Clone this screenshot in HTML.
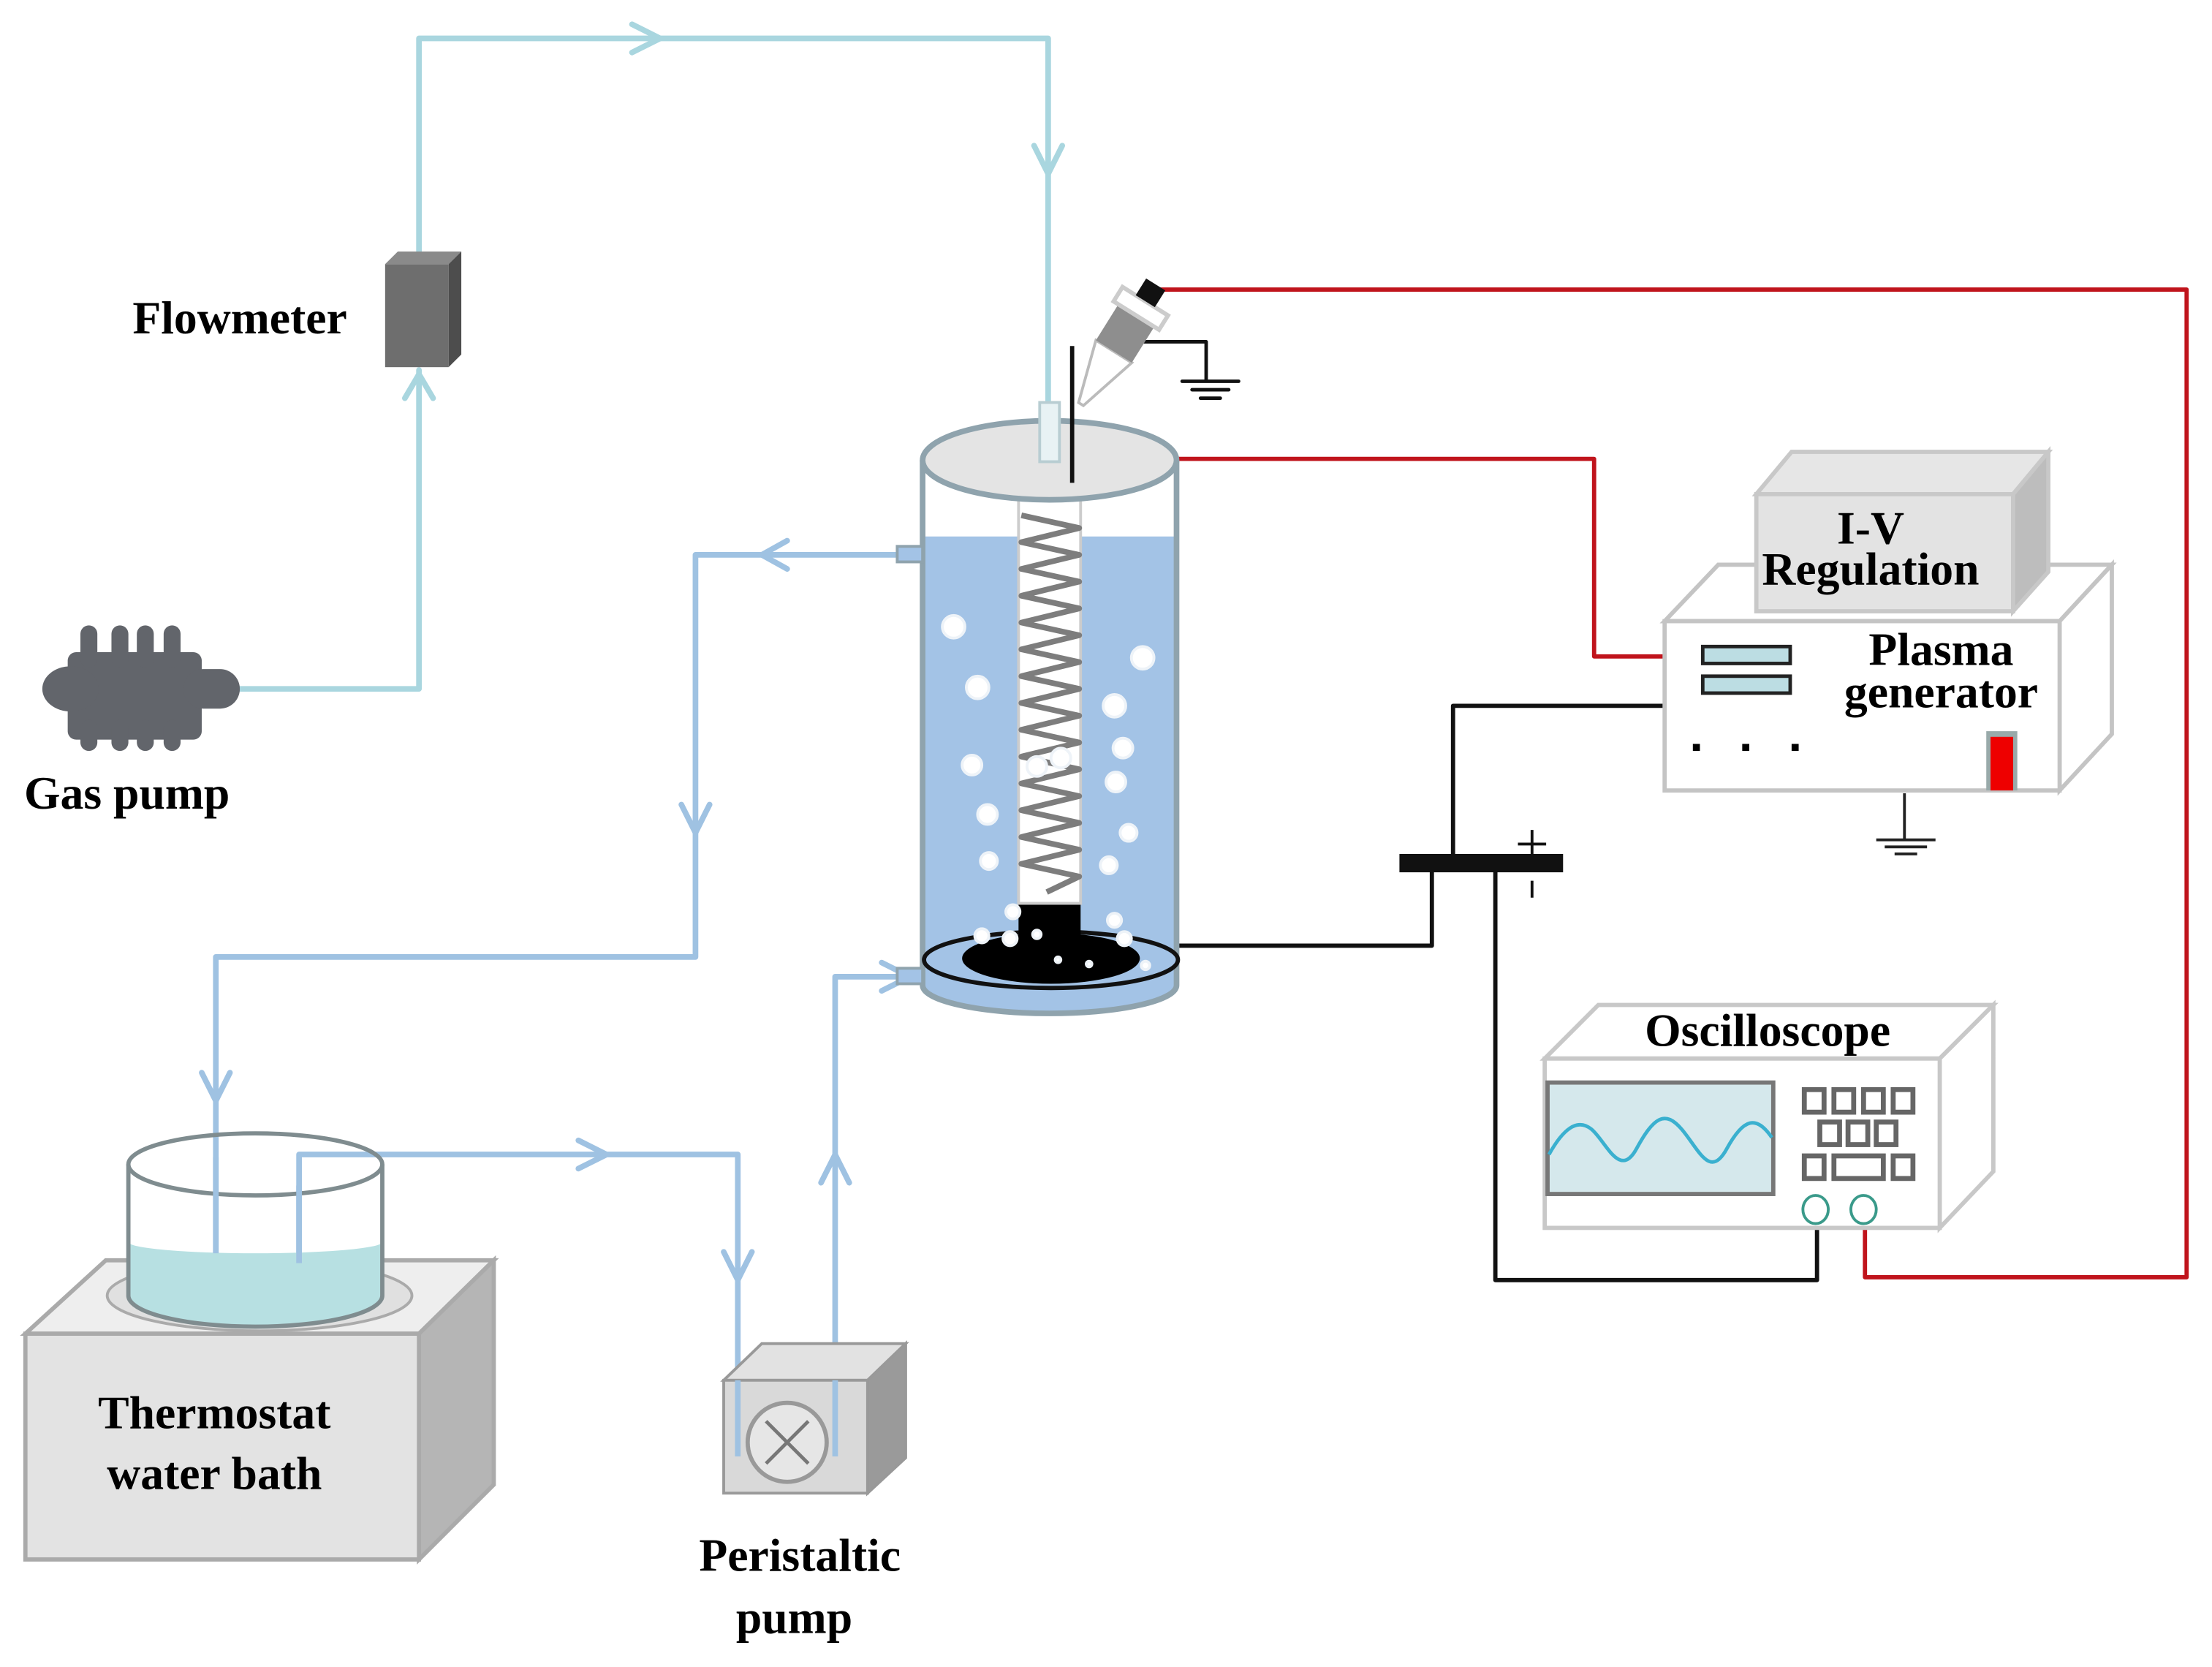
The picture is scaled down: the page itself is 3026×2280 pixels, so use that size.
<!DOCTYPE html>
<html><head><meta charset="utf-8"><style>html,body{margin:0;padding:0;background:#fff}svg{display:block}</style></head>
<body>
<svg width="3026" height="2280" viewBox="0 0 1568 1181" xmlns="http://www.w3.org/2000/svg" font-family="Liberation Serif, serif" font-weight="bold">
<rect width="1568" height="1181" fill="#fff"/>
<g fill="none" stroke-linecap="round" stroke-linejoin="round">
<path d="M160,488 H297 V262 M297,178 V27 H743 V300" stroke="#a9d6df" stroke-width="4"/>
<path d="M448,17 L468,27 L448,37" stroke="#a9d6df" stroke-width="4"/>
<path d="M733,103 L743,123 L753,103" stroke="#a9d6df" stroke-width="4"/>
<path d="M287,282 L297,265 L307,282" stroke="#a9d6df" stroke-width="4"/>
<path d="M640,393 H493 V678 H153 V888" stroke="#9fc2e2" stroke-width="4"/>
<path d="M558,383 L540,393 L558,403" stroke="#9fc2e2" stroke-width="4"/>
<path d="M483,570 L493,590 L503,570" stroke="#9fc2e2" stroke-width="4"/>
<path d="M143,760 L153,780 L163,760" stroke="#9fc2e2" stroke-width="4"/>
<path d="M212,895 V818 H523 V1032" stroke="#9fc2e2" stroke-width="4"/>
<path d="M410,808 L430,818 L410,828" stroke="#9fc2e2" stroke-width="4"/>
<path d="M513,887 L523,907 L533,887" stroke="#9fc2e2" stroke-width="4"/>
<path d="M592,1032 V692 H645" stroke="#9fc2e2" stroke-width="4"/>
<path d="M582,838 L592,818 L602,838" stroke="#9fc2e2" stroke-width="4"/>
<path d="M625,682 L645,692 L625,702" stroke="#9fc2e2" stroke-width="4"/>
<path d="M762,325 H1130 V465 H1182" stroke="#c0141c" stroke-width="3"/>
<path d="M815,205 H1550 V905 H1322 V858" stroke="#c0141c" stroke-width="3"/>
<path d="M1182,500 H1030 V606" stroke="#111" stroke-width="3"/>
<path d="M820,670 H1015 V618" stroke="#111" stroke-width="3"/>
<path d="M1060,618 V907 H1288 V858" stroke="#111" stroke-width="3"/>
<path d="M805,242 H855 V270 M838,270 H878 M845,276 H871 M851,282 H865" stroke="#111" stroke-width="2.5"/>
</g>
<rect x="992" y="605" width="116" height="13" fill="#111"/>
<path d="M1076,598 H1096 M1086,588 V608 M1086,624 V636" stroke="#111" stroke-width="2"/>
<polygon points="273,187 282,178 327,178 318,187" fill="#8a8a8a"/>
<polygon points="318,187 327,178 327,251 318,260" fill="#4d4d4d"/>
<rect x="273" y="187" width="45" height="73" fill="#6e6e6e"/>
<text x="170" y="236" font-size="33" text-anchor="middle">Flowmeter</text>
<g fill="#62656b">
<rect x="48" y="462" width="95" height="62" rx="6"/>
<ellipse cx="50" cy="488" rx="20" ry="16"/>
<rect x="130" y="474" width="40" height="28" rx="14"/>
<rect x="57" y="443" width="12" height="30" rx="6"/><rect x="79" y="443" width="12" height="30" rx="6"/><rect x="97" y="443" width="12" height="30" rx="6"/><rect x="116" y="443" width="12" height="30" rx="6"/>
<rect x="57" y="510" width="12" height="22" rx="6"/><rect x="79" y="510" width="12" height="22" rx="6"/><rect x="97" y="510" width="12" height="22" rx="6"/><rect x="116" y="510" width="12" height="22" rx="6"/>
</g>
<text x="90" y="573" font-size="33" text-anchor="middle">Gas pump</text>
<path d="M654,380 H834 V698 A90,20 0 0 1 654,698 Z" fill="#a3c3e6"/>
<path d="M654,326 V698 A90,20 0 0 0 834,698 V326" fill="none" stroke="#8fa3ad" stroke-width="4"/>
<rect x="636" y="387" width="18" height="11" fill="#a3c3e6" stroke="#8fa3ad" stroke-width="2"/>
<rect x="636" y="686" width="18" height="11" fill="#a3c3e6" stroke="#8fa3ad" stroke-width="2"/>
<ellipse cx="745" cy="680" rx="90" ry="20" fill="#a3c3e6" stroke="#111" stroke-width="3"/>
<ellipse cx="745" cy="679" rx="63" ry="18" fill="#000"/>
<rect x="722" y="640" width="44" height="35" fill="#000"/>
<rect x="722" y="352" width="44" height="288" fill="#fff" stroke="#ccc" stroke-width="2"/>
<polyline fill="none" stroke="#7d7d7d" stroke-width="4" stroke-linejoin="round" points="724,365 765,374 724,384 765,393 724,403 765,412 724,422 765,431 724,441 765,450 724,460 765,469 724,479 765,488 724,498 765,507 724,517 765,526 724,536 765,545 724,555 765,564 724,574 765,583 724,593 765,602 724,612 765,621 742,632"/>
<ellipse cx="744" cy="326" rx="90" ry="28" fill="#e4e4e4" stroke="#8fa3ad" stroke-width="4"/>
<rect x="737" y="285" width="14" height="42" fill="#e8f2f4" stroke="#b8cdd2" stroke-width="2"/>
<line x1="760" y1="245" x2="760" y2="342" stroke="#111" stroke-width="3"/>
<g transform="translate(797,237) rotate(32)">
<polygon points="-15,14 15,14 2,58 -2,58" fill="#fff" stroke="#bbb" stroke-width="2"/>
<rect x="-15" y="-16" width="30" height="30" fill="#8e8e8e"/>
<rect x="-19" y="-28" width="38" height="12" fill="#fff" stroke="#ccc" stroke-width="3"/>
<rect x="-8" y="-42" width="16" height="14" fill="#111"/>
</g>
<g fill="#fff" stroke="#eef3f8" stroke-width="2">
<circle cx="676" cy="444" r="8"/><circle cx="693" cy="487" r="8"/><circle cx="689" cy="542" r="7"/><circle cx="700" cy="577" r="7"/><circle cx="701" cy="610" r="6"/>
<circle cx="810" cy="466" r="8"/><circle cx="790" cy="500" r="8"/><circle cx="796" cy="530" r="7"/><circle cx="791" cy="554" r="7"/><circle cx="800" cy="590" r="6"/><circle cx="786" cy="613" r="6"/>
<circle cx="735" cy="543" r="7"/><circle cx="752" cy="537" r="7"/>
<circle cx="718" cy="646" r="5"/><circle cx="790" cy="652" r="5"/><circle cx="696" cy="663" r="5"/><circle cx="716" cy="665" r="5"/><circle cx="735" cy="662" r="3"/><circle cx="797" cy="665" r="5"/><circle cx="750" cy="680" r="2"/><circle cx="772" cy="683" r="2"/><circle cx="812" cy="684" r="3"/>
</g>
<polygon points="18,945 75,893 350,893 297,945" fill="#eeeeee" stroke="#aaa" stroke-width="3"/>
<polygon points="297,945 350,893 350,1052 297,1105" fill="#b5b5b5" stroke="#aaa" stroke-width="3"/>
<rect x="18" y="945" width="279" height="160" fill="#e3e3e3" stroke="#aaa" stroke-width="3"/>
<ellipse cx="184" cy="918" rx="108" ry="25" fill="#e0e0e0" stroke="#aaa" stroke-width="2"/>
<path d="M91,880 V918 A90,22 0 0 0 271,918 V880 A90,8 0 0 1 91,880 Z" fill="#b7e0e2"/>
<path d="M91,825 V918 A90,22 0 0 0 271,918 V825" fill="none" stroke="#7f8c8f" stroke-width="3"/>
<ellipse cx="181" cy="825" rx="90" ry="22" fill="none" stroke="#7f8c8f" stroke-width="3"/>
<path d="M153,820 V888 M212,840 V895" stroke="#9fc2e2" stroke-width="4"/>
<text x="152" y="1012" font-size="33" text-anchor="middle">Thermostat</text>
<text x="152" y="1055" font-size="33" text-anchor="middle">water bath</text>
<polygon points="513,978 540,952 642,952 615,978" fill="#e2e2e2" stroke="#999" stroke-width="2"/>
<polygon points="615,978 642,952 642,1033 615,1058" fill="#9a9a9a" stroke="#999" stroke-width="2"/>
<rect x="513" y="978" width="102" height="80" fill="#d9d9d9" stroke="#999" stroke-width="2"/>
<circle cx="558" cy="1022" r="28" fill="#e6e6e6" stroke="#999" stroke-width="3"/>
<path d="M543,1007 L573,1037 M573,1007 L543,1037" stroke="#777" stroke-width="2.5"/>
<path d="M523,978 V1032 M592,978 V1032" stroke="#9fc2e2" stroke-width="4"/>
<text x="567" y="1113" font-size="33" text-anchor="middle">Peristaltic</text>
<text x="563" y="1157" font-size="33" text-anchor="middle">pump</text>
<polygon points="1180,440 1218,400 1497,400 1460,440" fill="#fff" stroke="#c4c4c4" stroke-width="3"/>
<polygon points="1460,440 1497,400 1497,520 1460,560" fill="#fff" stroke="#c4c4c4" stroke-width="3"/>
<rect x="1180" y="440" width="280" height="120" fill="#fff" stroke="#c4c4c4" stroke-width="3"/>
<polygon points="1245,350 1270,320 1452,320 1427,350" fill="#e6e6e6" stroke="#c8c8c8" stroke-width="3"/>
<polygon points="1427,350 1452,320 1452,405 1427,433" fill="#bdbdbd" stroke="#c8c8c8" stroke-width="3"/>
<rect x="1245" y="350" width="182" height="83" fill="#e3e3e3" stroke="#c8c8c8" stroke-width="3"/>
<text x="1326" y="385" font-size="33" text-anchor="middle">I-V</text>
<text x="1326" y="414" font-size="33" text-anchor="middle">Regulation</text>
<rect x="1207" y="458" width="62" height="12" fill="#bcdde3" stroke="#222" stroke-width="2.5"/>
<rect x="1207" y="479" width="62" height="12" fill="#bcdde3" stroke="#222" stroke-width="2.5"/>
<rect x="1200" y="527" width="5" height="5" fill="#000"/><rect x="1235" y="527" width="5" height="5" fill="#000"/><rect x="1270" y="527" width="5" height="5" fill="#000"/>
<rect x="1408" y="518" width="22" height="42" fill="#9aa"/><rect x="1411" y="522" width="16" height="38" fill="#e00"/>
<text x="1376" y="471" font-size="33" text-anchor="middle">Plasma</text>
<text x="1376" y="501" font-size="33" text-anchor="middle">generator</text>
<path d="M1350,562 V595 M1330,595 H1372 M1336,600 H1366 M1343,605 H1359" stroke="#222" stroke-width="2"/>
<polygon points="1095,750 1133,712 1413,712 1375,750" fill="#fff" stroke="#c8c8c8" stroke-width="3"/>
<polygon points="1375,750 1413,712 1413,830 1375,870" fill="#fff" stroke="#c8c8c8" stroke-width="3"/>
<rect x="1095" y="750" width="280" height="120" fill="#fff" stroke="#c8c8c8" stroke-width="3"/>
<text x="1253" y="741" font-size="33" text-anchor="middle">Oscilloscope</text>
<rect x="1097" y="767" width="160" height="79" fill="#d5e8ec" stroke="#777" stroke-width="3"/>
<path d="M1098,818 C1108,800 1118,792 1128,800 S1148,836 1160,814 S1180,786 1192,800 S1212,836 1224,814 S1245,790 1256,806" fill="none" stroke="#3ab0cf" stroke-width="2.5"/>
<g fill="none" stroke="#666" stroke-width="3.5">
<rect x="1279" y="772" width="14" height="16"/><rect x="1300" y="772" width="14" height="16"/><rect x="1321" y="772" width="14" height="16"/><rect x="1342" y="772" width="14" height="16"/>
<rect x="1290" y="795" width="14" height="16"/><rect x="1310" y="795" width="14" height="16"/><rect x="1330" y="795" width="14" height="16"/>
<rect x="1279" y="819" width="14" height="16"/><rect x="1300" y="819" width="35" height="16"/><rect x="1342" y="819" width="14" height="16"/>
</g>
<ellipse cx="1287" cy="857" rx="9" ry="10" fill="none" stroke="#3a9a8a" stroke-width="2"/>
<ellipse cx="1321" cy="857" rx="9" ry="10" fill="none" stroke="#3a9a8a" stroke-width="2"/>
</svg>
</body></html>
